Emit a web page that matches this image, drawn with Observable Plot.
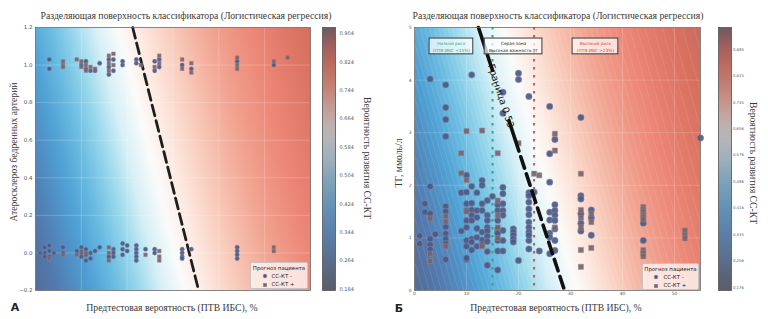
<!DOCTYPE html>
<html>
<head>
<meta charset="utf-8">
<script src="https://cdn.jsdelivr.net/npm/d3@7"></script>
<script src="https://cdn.jsdelivr.net/npm/@observablehq/plot@0.6"></script>
<style>
  body { margin: 0; background: #fff; }
  #fig { position: relative; width: 768px; height: 319px; overflow: hidden; background: #fff; }
  #fig > svg { position: absolute; top: 0; }
  .lbl { position: absolute; white-space: nowrap; font-family: "Liberation Serif", serif; font-size: 9.7px; color: #3a3a3a; transform: translate(-50%, -50%); }
  .rotL { transform: translate(-50%, -50%) rotate(-90deg); }
  .rotR { transform: translate(-50%, -50%) rotate(90deg); }
  .panel { position: absolute; font-family: "DejaVu Sans", sans-serif; font-weight: bold; font-size: 11px; color: #222; transform: translate(-50%, -50%); }
  .legend { position: absolute; box-sizing: border-box; background: rgba(255, 244, 240, 0.82); border: 0.6px solid #c9c3c3; border-radius: 2px; font-family: "DejaVu Sans", sans-serif; color: #222; }
  .legend .lt { position: absolute; left: 0; right: 0; text-align: center; font-size: 5.4px; }
  .legend .li { position: absolute; font-size: 5.4px; }
  .legend svg { position: absolute; overflow: visible; }
</style>
</head>
<body>
<div id="fig"></div>
<script>
// ---- shared text ----
const chartTitle = "Разделяющая поверхность классификатора (Логистическая регрессия)";
const xTitle = "Предтестовая вероятность (ПТВ ИБС), %";
const yTitleA = "Атеросклероз бедренных артерий";
const yTitleB = "ТГ, ммоль/л";
const colorTitle = "Вероятность развития СС-КТ";
const legendTitle = "Прогноз пациента";
const classNames = ["СС-КТ -", "СС-КТ +"];
const panelLetters = ["А", "Б"];

// ---- axes ----
const ptvTicks = [0, 10, 20, 30, 40, 50];
const aYTicks = [-0.2, 0, 0.2, 0.4, 0.6, 0.8, 1.0, 1.2];
const bYTicks = [0, 1, 2, 3, 4, 5];
const cbTicksA = [0.184, 0.264, 0.344, 0.424, 0.504, 0.584, 0.664, 0.744, 0.824, 0.904];
const cbTicksB = [0.176, 0.256, 0.335, 0.416, 0.496, 0.576, 0.656, 0.735, 0.815, 0.895];
const cbRangeA = [0.18, 0.921];
const cbRangeB = [0.167, 0.961];

// ---- logistic models: [intercept, ПТВ coef, second feature coef] ----
const modelA = [-1.22, 0.04, 0.416];
const modelB = [-1.3855, 0.0521, 0.1485];
const whiteA = 0.5;
const whiteB = 0.56;

// ---- decision boundaries (p = 0.53) ----
const boundaryA = [[21.2, 1.2], [35.6, -0.2]];
const boundaryB = [[12.3, 5], [28.85, 0]];
const boundaryLabel = "Граница 0.53";

// ---- risk thresholds for panel Б ----
const lowRiskPtv = 15;
const highRiskPtv = 23;
const zoneText = ["Низкий риск\n(ПТВ ИБС <15%)", "Серая зона\nВысокая важность ТГ", "Высокий риск\n(ПТВ ИБС >23%)"];

// ---- patients, panel А: [ПТВ, атеросклероз (с разбросом)] ----
const aNeg = [
  [3,1.03],[3,0.98],[10,1.0],[11,1.02],[11,0.98],[12,0.97],[13,0.97],[14,1.01],[16,1.03],[16,0.99],[16,0.95],
  [17,1.03],[17,0.97],[19,1.02],[19,1.0],[22,1.03],[22,1.01],[26,1.02],[26,0.97],[27,1.03],[27,0.99],
  [32,1.0],[34,0.98],[44,1.02],[52,1.0],
  [1,0.0],[2,0.03],[2,0.0],[2,-0.02],[3,0.04],[3,0.01],[3,-0.02],[4,0.0],[6,0.03],[6,0.0],[9,0.01],
  [10,0.03],[10,0.0],[10,-0.02],[11,0.02],[11,-0.01],[11,-0.04],[12,0.0],[12,-0.03],[13,0.01],[14,0.03],
  [16,-0.02],[17,0.02],[17,0.0],[17,-0.02],[19,0.05],[19,0.02],[19,-0.01],[20,0.04],[20,0.01],
  [22,0.04],[22,0.02],[22,0.0],[22,-0.02],[22,-0.04],[24,0.02],[26,0.02],[26,0.0],
  [32,0.02],[32,0.0],[32,-0.02],[32,-0.03],[34,0.02],[44,0.03],[44,0.01],[44,-0.01],[44,-0.03]
];
const aPos = [
  [6,1.02],[6,1.0],[6,0.99],[9,1.03],[10,1.02],[10,0.99],[11,1.0],[11,0.97],[12,0.99],[13,0.98],
  [16,1.05],[16,1.01],[16,0.97],[17,1.06],[17,1.0],[23,1.0],[26,0.99],[27,1.05],[27,1.01],
  [32,1.03],[32,0.98],[34,1.01],[34,0.96],[44,1.04],[44,1.0],[44,0.98],[52,1.02],[55,1.04],
  [3,-0.03],[6,-0.01],[9,-0.01],[10,0.01],[11,0.0],[16,0.03],[16,0.0],[16,-0.04],[24,-0.01],
  [27,0.01],[27,-0.02],[27,-0.04],[52,0.03],[52,0.01]
];

// ---- patients, panel Б: [ПТВ, ТГ] ----
const bNeg = [
  [3,4.02],[6,3.91],[11,4.1],[6,3.48],[6,3.25],[6,2.93],[17,3.77],[17,3.37],[20,4.13],[20,4.01],[22,3.69],
  [26,3.5],[27,2.87],[26,2.6],[32,3.29],[55,2.9],
  [10,2.19],[13,2.09],[13,2.0],[11,1.98],[3,1.98],[9,1.86],[10,1.87],[12,1.86],[17,1.96],[17,1.84],[14,1.71],
  [15,1.79],[22,1.86],[23,1.87],[26,2.06],[22,1.8],[32,1.8],[32,1.74],
  [2,1.65],[2,1.49],[3,1.46],[6,1.6],[6,1.5],[6,1.21],[10,1.65],[10,1.52],[10,1.33],
  [11,1.66],[11,1.53],[11,1.43],[11,1.33],[12,1.52],[12,1.39],[13,1.65],[13,1.52],
  [14,1.43],[14,1.33],[14,1.2],[16,1.63],[16,1.52],[16,1.33],[16,1.11],[16,0.95],
  [17,1.65],[17,1.52],[17,1.43],[22,1.68],[22,1.55],[22,1.44],[22,1.3],[22,1.2],[22,1.11],[22,0.95],
  [26,1.49],[26,1.34],[27,1.63],[27,1.52],[27,1.43],[27,1.33],
  [32,1.46],[32,1.28],[32,1.13],[34,1.53],[34,1.38],[44,1.28],
  [1,1.04],[1,0.89],[3,0.98],[3,0.87],[3,0.78],[4,1.07],[6,1.08],[6,0.98],[6,0.89],[6,0.59],
  [9,1.13],[10,1.2],[10,0.95],[10,0.84],[10,0.59],[10,0.62],[11,0.98],[11,0.92],[11,0.77],
  [12,1.18],[12,1.01],[12,0.84],[13,1.11],[13,0.96],[13,0.87],[14,1.13],[14,1.03],[14,0.93],[14,0.74],[14,0.48],
  [16,1.17],[16,1.09],[16,0.75],[16,0.39],[17,1.14],[17,0.95],[17,0.75],
  [19,1.17],[19,1.11],[19,1.05],[19,0.98],[19,0.92],[20,0.57],[22,1.05],[22,0.79],[24,0.75],
  [26,1.09],[26,1.01],[26,0.7],[27,1.17],[27,0.95],[27,0.76],[34,1.05],[44,0.95]
];
const bPos = [
  [10,3.03],[13,3.04],[9,2.61],[16,2.61],[20,2.8],[27,2.98],[27,2.66],[9,2.23],[10,2.1],[23,2.22],[24,2.19],
  [32,2.22],[3,1.37],[6,1.41],[6,1.31],[10,1.5],[16,1.71],[16,1.43],[16,1.2],[16,1.0],[27,1.2],
  [32,1.53],[32,1.38],[32,1.2],[34,1.46],[34,1.3],[32,0.77],[32,0.45],[34,0.81],
  [44,1.59],[44,1.54],[44,1.5],[44,1.44],[44,1.4],[44,1.35],[44,0.77],[44,0.71],[44,0.65],
  [52,1.14],[52,1.06],[52,0.99],[3,0.7],[3,0.56],[6,0.84],[13,0.84]
];

// ---- colours ----
const surfStops = [-1, -0.8, -0.6, -0.45, -0.31, -0.16, 0, 0.12, 0.26, 0.45, 0.63, 0.8, 1];
const surfColors = ["#566181","#5279ae","#4fa0d4","#6cbde2","#99d8ec","#d6f0f7","#fbfbfa","#fde8df","#f9cdbd","#f2a593","#ec8676","#d8705f","#9a6264"];
const barStops = [0, 0.06, 0.13, 0.22, 0.32, 0.42, 0.5, 0.57, 0.63, 0.7, 0.78, 0.86, 0.93, 1];
const barColors = ["#5b5d69","#5a6579","#5a7191","#5b80aa","#6592b6","#7fa3b9","#9eb0bc","#b3b5b9","#bfb0ad","#c49b93","#c47f73","#bd6a5f","#a25f5d","#6c5a60"];
const negFill = "#4b5886", negStroke = "#8d96ad";
const posFill = "#77636c", posStroke = "#9c8c90";
const lowColor = "#2fa67a", highColor = "#d4453e";

const surfRamp = d3.scaleLinear().domain(surfStops).range(surfColors).clamp(true);
const barRamp = d3.scaleLinear().domain(barStops).range(barColors).clamp(true);

function logistic(m) {
  return (x, y) => 1 / (1 + Math.exp(-(m[0] + m[1] * x + m[2] * y)));
}
function diverging([lo, hi], mid) {
  return t => {
    const p = lo + t * (hi - lo);
    const s = p < mid ? (p - mid) / (mid - lo) : (p - mid) / (hi - mid);
    return surfRamp(s);
  };
}
const px = d => d[0], py = d => d[1];

const fig = document.getElementById("fig");
function put(svg, left) { svg.style.left = left + "px"; fig.appendChild(svg); }
function label(text, x, y, cls) {
  const el = document.createElement("div");
  el.className = cls;
  el.textContent = text;
  el.style.left = x + "px";
  el.style.top = y + "px";
  fig.appendChild(el);
}

const baseStyle = {background: "transparent", overflow: "visible", fontFamily: "DejaVu Sans, sans-serif", color: "#555"};

// ---------- panel А ----------
const probA = logistic(modelA);
const plotA = Plot.plot({
  width: 315, height: 319,
  marginLeft: 35, marginRight: 5, marginTop: 27, marginBottom: 29,
  style: {...baseStyle, fontSize: "5.5px"},
  x: {domain: [0, 60], axis: null},
  y: {domain: [-0.2, 1.2], axis: null},
  color: {type: "linear", domain: cbRangeA, interpolate: diverging(cbRangeA, whiteA)},
  marks: [
    Plot.raster({x1: 0, x2: 60, y1: -0.2, y2: 1.2, fill: probA, pixelSize: 1}),
    Plot.gridX(ptvTicks.slice(1), {stroke: "#fff", strokeOpacity: 0.35, strokeWidth: 0.6}),
    Plot.gridY(aYTicks, {stroke: "#fff", strokeOpacity: 0.35, strokeWidth: 0.6}),
    Plot.line(boundaryA, {x: px, y: py, stroke: "#1e1e1e", strokeWidth: 2.8, strokeDasharray: "11,5"}),
    Plot.dot(aNeg, {x: px, y: py, r: 2.2, fill: negFill, fillOpacity: 0.92, stroke: negStroke, strokeWidth: 0.4}),
    Plot.dot(aPos, {x: px, y: py, r: 2.1, symbol: "square", fill: posFill, fillOpacity: 0.92, stroke: posStroke, strokeWidth: 0.4}),
    Plot.frame({stroke: "#6a6a6a", strokeWidth: 0.8}),
    Plot.axisY(aYTicks, {tickSize: 0, tickPadding: 3, tickFormat: d3.format(".1f"), label: null})
  ]
});
put(plotA, 0);

const barA = Plot.plot({
  width: 45, height: 319,
  marginLeft: 7, marginRight: 25, marginTop: 27, marginBottom: 29,
  style: {...baseStyle, fontSize: "5px"},
  x: {domain: [0, 1], axis: null},
  y: {domain: cbRangeA, axis: null},
  color: {type: "linear", domain: cbRangeA, interpolate: t => barRamp(t)},
  marks: [
    Plot.raster({x1: 0, x2: 1, y1: cbRangeA[0], y2: cbRangeA[1], fill: (x, y) => y, pixelSize: 1}),
    Plot.frame({stroke: "#555", strokeWidth: 0.8}),
    Plot.axisY(cbTicksA, {anchor: "right", tickSize: 0, tickPadding: 4, tickFormat: d3.format(".3f"), label: null})
  ]
});
put(barA, 315);

// ---------- panel Б ----------
const probB = logistic(modelB);
const zoneBoxes = [[2.9, 11.3], [13.5, 24.6], [30.4, 39.2]];
const zoneTop = 4.79, zoneBottom = 4.49;
const zoneColors = [lowColor, "#222", highColor];
const labelPoint = d3.interpolateArray(boundaryB[0], boundaryB[1])(0.26);

const plotB = Plot.plot({
  width: 320, height: 319,
  marginLeft: 30, marginRight: 4, marginTop: 27, marginBottom: 29,
  style: {...baseStyle, fontSize: "4.5px"},
  x: {domain: [0, 55], axis: null},
  y: {domain: [0, 5], axis: null},
  color: {type: "linear", domain: cbRangeB, interpolate: diverging(cbRangeB, whiteB)},
  marks: [
    Plot.raster({x1: 0, x2: 55, y1: 0, y2: 5, fill: probB, pixelSize: 1}),
    Plot.contour({x1: 0, x2: 55, y1: 0, y2: 5, value: probB, thresholds: d3.range(0.17, 0.96, 0.011),
      fill: "none", stroke: "#ffffff", strokeOpacity: 0.2, strokeWidth: 0.5}),
    Plot.gridX(ptvTicks.slice(1), {stroke: "#fff", strokeOpacity: 0.3, strokeWidth: 0.6}),
    Plot.gridY(bYTicks.slice(1, -1), {stroke: "#fff", strokeOpacity: 0.3, strokeWidth: 0.6}),
    Plot.ruleX([lowRiskPtv], {stroke: lowColor, strokeWidth: 2, strokeDasharray: "2.6,5.4"}),
    Plot.ruleX([highRiskPtv], {stroke: "#c4574f", strokeWidth: 2, strokeDasharray: "2.6,5.4"}),
    Plot.dot(bNeg, {x: px, y: py, r: 3.2, fill: negFill, fillOpacity: 0.92, stroke: negStroke, strokeWidth: 0.5}),
    Plot.dot(bPos, {x: px, y: py, r: 2.9, symbol: "square", fill: posFill, fillOpacity: 0.92, stroke: posStroke, strokeWidth: 0.5}),
    // solid at the top, broken for the inline label, dashed further down
    Plot.line(boundaryB, {x: px, y: py, stroke: "#111", strokeWidth: 3.6,
      strokeDasharray: "45,53,32" + ",6,12".repeat(10)}),
    Plot.text([boundaryLabel], {x: labelPoint[0], y: labelPoint[1], text: d => d, rotate: 72,
      fontSize: 9.5, fill: "#111", fontFamily: "DejaVu Sans, sans-serif"}),
    Plot.rect(zoneText, {x1: (d, i) => zoneBoxes[i][0], x2: (d, i) => zoneBoxes[i][1], y1: zoneBottom, y2: zoneTop,
      fill: "#fff", fillOpacity: 0.72, stroke: "#4a4a4a", strokeWidth: 1.1}),
    Plot.text(zoneText, {x: (d, i) => (zoneBoxes[i][0] + zoneBoxes[i][1]) / 2, y: (zoneTop + zoneBottom) / 2,
      text: d => d, fill: (d, i) => zoneColors[i], fontSize: 4.3, lineHeight: 1.5}),
    Plot.frame({stroke: "#6a6a6a", strokeWidth: 0.8}),
    Plot.axisX(ptvTicks, {tickSize: 0, tickPadding: 1.5, tickFormat: d3.format("d"), label: null}),
    Plot.axisY(bYTicks, {tickSize: 0, tickPadding: 3, tickFormat: d3.format("d"), label: null})
  ]
});
put(plotB, 384);

const commaFmt = d => d.toFixed(3).replace(".", ",");
const barB = Plot.plot({
  width: 45, height: 319,
  marginLeft: 8, marginRight: 24, marginTop: 27, marginBottom: 29,
  style: {...baseStyle, fontSize: "3.8px"},
  x: {domain: [0, 1], axis: null},
  y: {domain: cbRangeB, axis: null},
  color: {type: "linear", domain: cbRangeB, interpolate: t => barRamp(t)},
  marks: [
    Plot.raster({x1: 0, x2: 1, y1: cbRangeB[0], y2: cbRangeB[1], fill: (x, y) => y, pixelSize: 1}),
    Plot.frame({stroke: "#555", strokeWidth: 0.8}),
    Plot.axisY(cbTicksB, {anchor: "right", tickSize: 0, tickPadding: 1.5, tickFormat: commaFmt, label: null})
  ]
});
put(barB, 710);

// ---------- titles and axis labels ----------
label(chartTitle, 186, 15, "lbl");
label(chartTitle, 558, 15, "lbl");
label(xTitle, 172, 307, "lbl");
label(xTitle, 556, 307, "lbl");
label(yTitleA, 13, 152, "lbl rotL");
label(yTitleB, 398, 163, "lbl rotL");
label(colorTitle, 367, 158, "lbl rotR");
label(colorTitle, 753, 163, "lbl rotR");
label(panelLetters[0], 15, 307, "panel");
label(panelLetters[1], 399, 308, "panel");

// ---------- legends ----------
function legend(left, top, w, h) {
  const box = document.createElement("div");
  box.className = "legend";
  Object.assign(box.style, {left: left + "px", top: top + "px", width: w + "px", height: h + "px"});
  box.innerHTML = `
    <div class="lt" style="top:1.5px">${legendTitle}</div>
    <svg style="left:${w * 0.2}px;top:11px" width="4" height="4"><circle cx="2" cy="2" r="1.9" fill="${negFill}" stroke="${negStroke}" stroke-width="0.4"/></svg>
    <div class="li" style="left:${w * 0.2 + 9}px;top:9.5px">${classNames[0]}</div>
    <svg style="left:${w * 0.2}px;top:19.5px" width="4" height="4"><rect x="0.2" y="0.2" width="3.6" height="3.6" fill="${posFill}" stroke="${posStroke}" stroke-width="0.4"/></svg>
    <div class="li" style="left:${w * 0.2 + 9}px;top:18px">${classNames[1]}</div>`;
  fig.appendChild(box);
}
legend(250, 262, 58, 27);
legend(642, 263, 57, 27);
</script>
</body>
</html>
